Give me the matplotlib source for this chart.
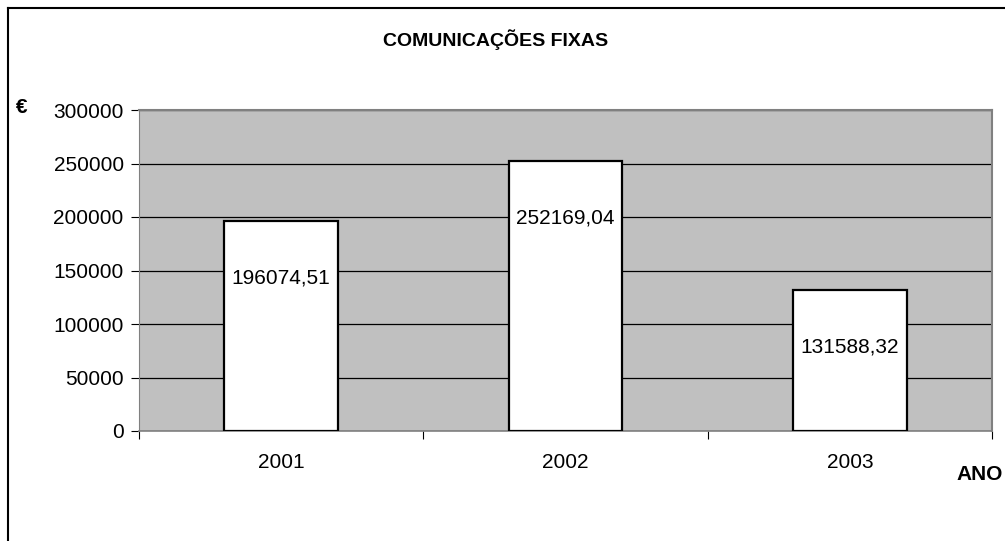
import matplotlib.pyplot as plt
from matplotlib.lines import Line2D

years = ['2001', '2002', '2003']
values = [196074.51, 252169.04, 131588.32]
labels = ['196074,51', '252169,04', '131588,32']
yticks = [0, 50000, 100000, 150000, 200000, 250000, 300000]

plt.rcParams['font.family'] = ['Liberation Sans', 'DejaVu Sans']

fig = plt.figure(figsize=(10.05, 5.41), dpi=100)
ax = fig.add_axes([139 / 1005, 1 - 431 / 541, (992 - 139) / 1005, (431 - 110) / 541])

ax.set_facecolor('#c0c0c0')
x = list(range(len(years)))
ax.bar(x, values, width=0.4, color='white', edgecolor='black', linewidth=1.6, zorder=3)
ax.set_xlim(-0.5, len(years) - 0.5)
ax.set_ylim(0, 300000)

ax.set_yticks(yticks)
ax.set_yticklabels([str(v) for v in yticks], fontsize=15)
ax.yaxis.grid(True, color='black', linewidth=0.9, zorder=1)
ax.set_axisbelow(True)

ax.set_xticks(x)
ax.set_xticklabels(years, fontsize=15)
ax.tick_params(axis='x', which='major', length=0, pad=16)
ax.set_xticks([i - 0.5 for i in range(len(years) + 1)], minor=True)
ax.tick_params(axis='x', which='minor', length=6, width=0.8, direction='out')
ax.tick_params(axis='y', length=6, width=0.8, pad=5)

for s in ['top', 'right']:
    ax.spines[s].set_color('#808080')
    ax.spines[s].set_linewidth(1.5)
ax.spines['left'].set_color('#808080')
ax.spines['bottom'].set_color('#808080')
ax.spines['bottom'].set_linewidth(1.2)

for xi, v, lab in zip(x, values, labels):
    ax.annotate(lab, (xi, v), xytext=(0, -41), textcoords='offset points',
                ha='center', va='center', fontsize=15, zorder=4)

fig.text(496 / 1005, 1 - 40 / 541, 'COMUNICAÇÕES FIXAS', ha='center', va='center',
         fontsize=14, fontweight='bold')
fig.text(22 / 1005, 1 - 107 / 541, '€', ha='center', va='center', fontsize=15, fontweight='bold')
fig.text(980 / 1005, 1 - 474 / 541, 'ANO', ha='center', va='center', fontsize=15, fontweight='bold')

# chart border (right and bottom edges fall outside the image)
fig.add_artist(Line2D([7.5 / 1005, 7.5 / 1005], [0, 1 - 8 / 541], color='black', linewidth=1.5,
                      transform=fig.transFigure))
fig.add_artist(Line2D([7.5 / 1005, 1], [1 - 8 / 541, 1 - 8 / 541], color='black', linewidth=1.5,
                      transform=fig.transFigure))

fig.savefig('out.png', dpi=100)
